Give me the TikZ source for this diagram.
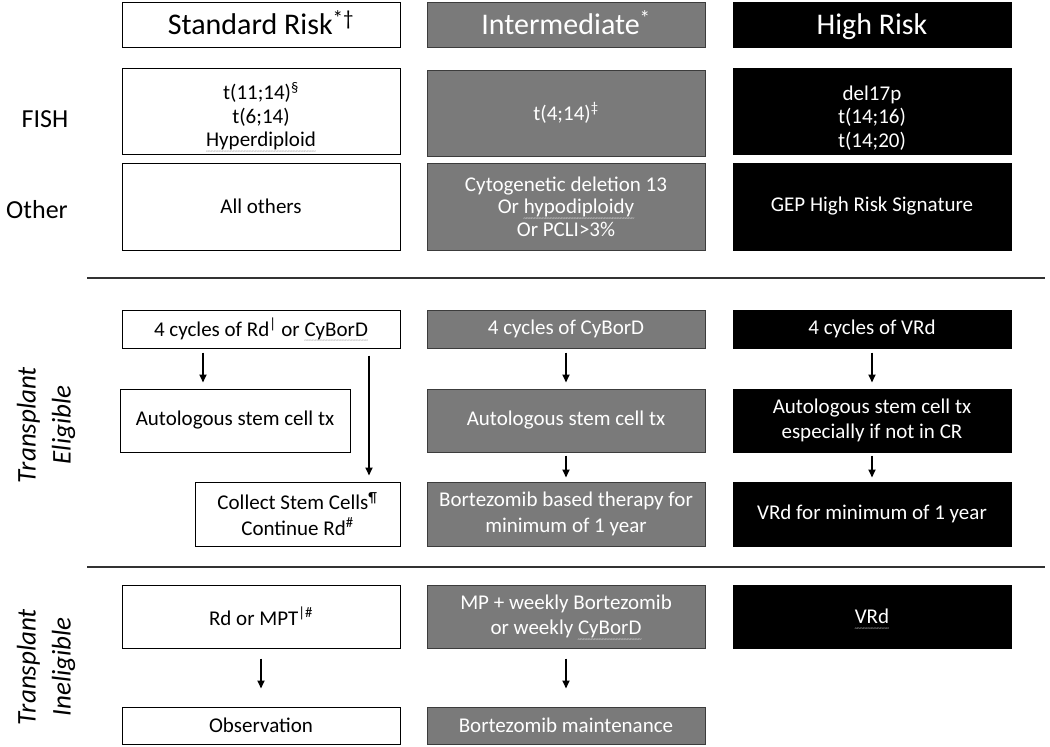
\documentclass[tikz,border=0pt]{standalone}
\usepackage{fontspec}
\setmainfont{Carlito}
\usetikzlibrary{arrows.meta}
\newcommand\gwave[2][gray!70]{\setbox0\hbox{#2}\rlap{\color{#1}\raisebox{-6.5pt}[0pt][0pt]{\hbox to \wd0{\fontsize{7}{7}\selectfont\xleaders\hbox{\kern-0.4pt\textasciitilde\kern-0.4pt}\hfill}}}\box0}
\newcommand\topstrut{\rule{0pt}{28pt}}
\definecolor{midgray}{RGB}{122,122,122}
\definecolor{edgegray}{RGB}{60,60,60}
\definecolor{linegray}{RGB}{50,50,50}
\tikzset{
  basebox/.style={draw, align=center, inner sep=0pt, line width=1pt, font=\fontsize{21}{22.5}\selectfont},
  wbox/.style={basebox, fill=white, draw=black, text=black},
  gbox/.style={basebox, fill=midgray, draw=edgegray, text=white},
  bbox/.style={basebox, fill=black, draw=black, text=white},
  headfont/.style={font=\fontsize{30}{32}\selectfont, text height=23pt, text depth=3pt},
  threeline/.style={font=\fontsize{21}{23.5}\selectfont},
  twoline/.style={font=\fontsize{21}{25.5}\selectfont},
  rowlabel/.style={font=\fontsize{26}{30}\selectfont},
  sidelabel/.style={rotate=90, align=center, font=\itshape\fontsize{27}{35}\selectfont},
  arr/.style={-{Triangle[length=8pt,width=7pt]}, line width=1.7pt},
  sepline/.style={line width=1.6pt, draw=linegray}
}
\begin{document}
\begin{tikzpicture}[x=1pt,y=-1pt]
\useasboundingbox (0,0) rectangle (1050,747);
% header row
\node[wbox, headfont, minimum width=278pt, minimum height=45pt] (h1) at (261,24.5) {Standard Risk\textsuperscript{*†}};
\node[gbox, headfont, minimum width=278pt, minimum height=45pt] (h2) at (566,24.5) {Intermediate\textsuperscript{*}};
\node[bbox, headfont, minimum width=278pt, minimum height=45pt] (h3) at (872,24.5) {High Risk};
% FISH row
\node[rowlabel] (fish) at (45,119) {FISH};
\node[wbox, threeline, minimum width=278pt, minimum height=86pt] (f1) at (261,111) {\topstrut t(11;14)\textsuperscript{§}\\t(6;14)\\\gwave{Hyperdiploid}};
\node[gbox, minimum width=278pt, minimum height=86pt] (f2) at (566,113) {t(4;14)\textsuperscript{‡}};
\node[bbox, threeline, minimum width=278pt, minimum height=86pt] (f3) at (872,111) {\topstrut del17p\\t(14;16)\\t(14;20)};
% Other row
\node[rowlabel] (other) at (37,210) {Other};
\node[wbox, minimum width=278pt, minimum height=87pt] (o1) at (261,206.5) {All others};
\node[gbox, minimum width=278pt, minimum height=87pt] (o2) at (566,206.5) {Cytogenetic deletion 13\\Or \gwave[gray!30]{hypodiploidy}\\Or PCLI>3\%};
\node[bbox, minimum width=278pt, minimum height=87pt] (o3) at (872,206.5) {GEP High Risk Signature};
% separator 1
\coordinate (l1a) at (87,278);
\coordinate (l1b) at (1045,278);
\draw[sepline] (l1a) -- (l1b);
% transplant eligible
\node[sidelabel] (te) at (46,425) {Transplant\\Eligible};
\node[wbox, minimum width=278pt, minimum height=38pt] (e1) at (261,329) {4 cycles of Rd\textsuperscript{|} or \gwave{CyBorD}};
\node[gbox, minimum width=278pt, minimum height=38pt] (e2) at (566,329) {4 cycles of CyBorD};
\node[bbox, minimum width=278pt, minimum height=38pt] (e3) at (872,329) {4 cycles of VRd};
\node[wbox, minimum width=230pt, minimum height=63pt] (a1) at (235,420.5) {Autologous stem cell tx};
\node[gbox, minimum width=278pt, minimum height=63pt] (a2) at (566,420.5) {Autologous stem cell tx};
\node[bbox, twoline, minimum width=278pt, minimum height=63pt] (a3) at (872,420.5) {Autologous stem cell tx\\especially if not in CR};
\node[wbox, twoline, minimum width=205pt, minimum height=64pt] (c1) at (297.5,514) {Collect Stem Cells\textsuperscript{¶}\\Continue Rd\textsuperscript{\#}};
\node[gbox, twoline, minimum width=278pt, minimum height=64pt] (c2) at (566,514) {Bortezomib based therapy for\\minimum of 1 year};
\node[bbox, minimum width=278pt, minimum height=64pt] (c3) at (872,514) {VRd for minimum of 1 year};
\coordinate (xa) at (203,0);
\coordinate (xb) at (369,0);
\draw[arr, shorten <=4pt, shorten >=6pt] (e1.south -| xa) -- (a1.north -| xa);
\draw[arr, shorten <=7pt, shorten >=6pt] (e1.south -| xb) -- (c1.north -| xb);
\draw[arr, shorten <=4pt, shorten >=6pt] (e2.south) -- (a2.north);
\draw[arr, shorten <=4pt, shorten >=6pt] (e3.south) -- (a3.north);
\draw[arr, shorten <=3pt, shorten >=4pt] (a2.south) -- (c2.north);
\draw[arr, shorten <=3pt, shorten >=4pt] (a3.south) -- (c3.north);
% separator 2
\coordinate (l2a) at (87,567);
\coordinate (l2b) at (1045,567);
\draw[sepline] (l2a) -- (l2b);
% transplant ineligible
\node[sidelabel] (ti) at (46,667) {Transplant\\Ineligible};
\node[wbox, minimum width=278pt, minimum height=63pt] (i1) at (261,616.5) {Rd or MPT\textsuperscript{|\#}};
\node[gbox, twoline, minimum width=278pt, minimum height=63pt] (i2) at (566,616.5) {MP + weekly Bortezomib\\or weekly \gwave[gray!30]{CyBorD}};
\node[bbox, minimum width=278pt, minimum height=63pt] (i3) at (872,616.5) {\gwave[gray!50]{VRd}};
\node[wbox, minimum width=278pt, minimum height=37pt] (m1) at (261,725.5) {Observation};
\node[gbox, minimum width=278pt, minimum height=37pt] (m2) at (566,725.5) {Bortezomib maintenance};
\draw[arr, shorten <=10pt, shorten >=18pt] (i1.south) -- (m1.north);
\draw[arr, shorten <=10pt, shorten >=18pt] (i2.south) -- (m2.north);
\end{tikzpicture}
\end{document}
